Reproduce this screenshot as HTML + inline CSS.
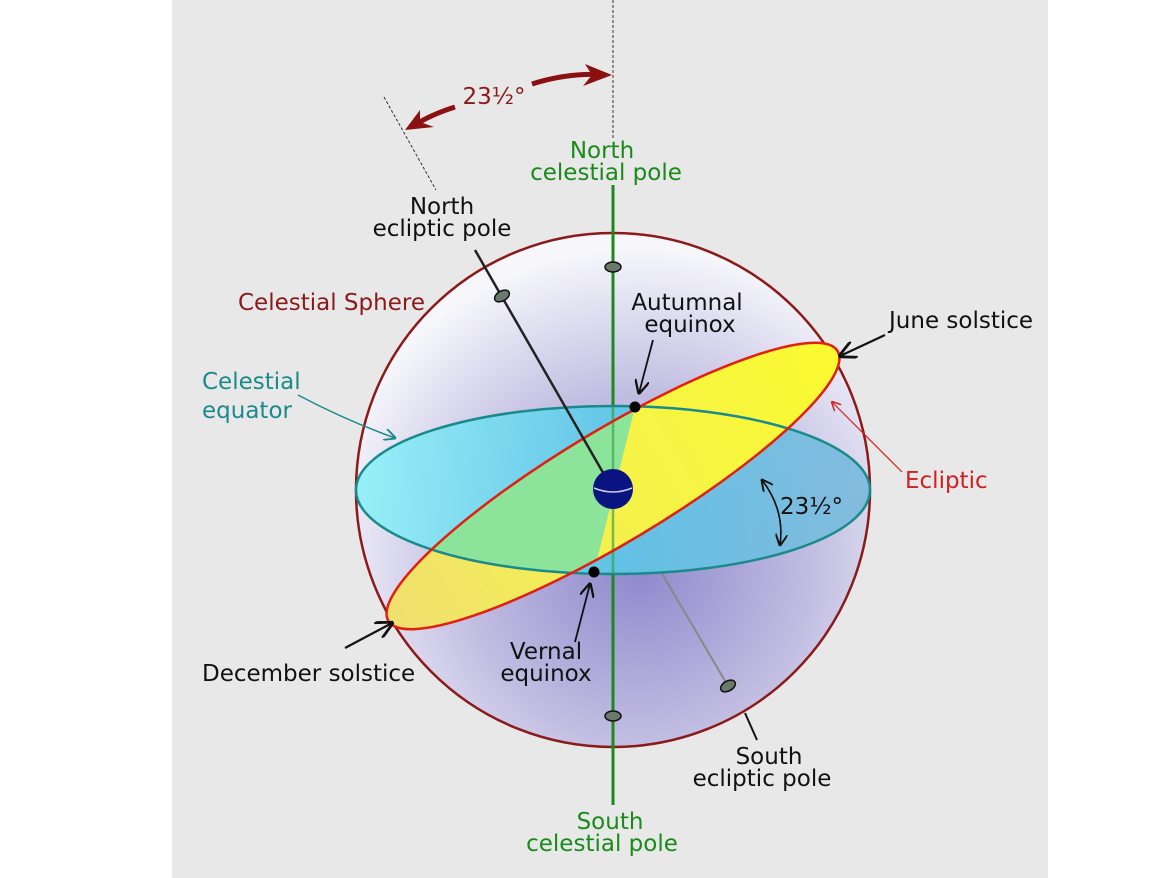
<!DOCTYPE html>
<html><head><style>
body{margin:0;background:#fff;}
svg{display:block;font-family:"DejaVu Sans","Liberation Sans",sans-serif;}
</style></head><body>
<svg width="1170" height="878" viewBox="0 0 1170 878">
<defs>
<radialGradient id="sph" cx="0.55" cy="0.65" r="0.62">
<stop offset="0" stop-color="#8e88cc"/><stop offset="0.55" stop-color="#c2bee2"/><stop offset="1" stop-color="#f6f6fb"/>
</radialGradient>
<linearGradient id="eq" x1="0" y1="0" x2="1" y2="0">
<stop offset="0" stop-color="#8ef0f8"/><stop offset="0.5" stop-color="#5cc8e8"/><stop offset="1" stop-color="#7ab8dc"/>
</linearGradient>
<linearGradient id="ec" x1="0" y1="0" x2="1" y2="0">
<stop offset="0" stop-color="#f0e070"/><stop offset="0.4" stop-color="#f4f050"/><stop offset="1" stop-color="#fafa30"/>
</linearGradient>
<clipPath id="eqc"><ellipse cx="613" cy="490" rx="257" ry="84"/></clipPath>
<clipPath id="leftc"><polygon points="300,300 640,300 635,407 594,572 590,700 300,700"/></clipPath>
<marker id="ah" viewBox="0 0 10 10" refX="9" refY="5" markerWidth="8" markerHeight="8" orient="auto"><path d="M0,0 L10,5 L0,10" fill="none" stroke="#111" stroke-width="1.6"/></marker>
<marker id="ahc" viewBox="0 0 10 10" refX="9" refY="5" markerWidth="8" markerHeight="8" orient="auto"><path d="M0,0 L10,5 L0,10" fill="none" stroke="#1a8a8a" stroke-width="1.6"/></marker>
<marker id="ahr" viewBox="0 0 10 10" refX="9" refY="5" markerWidth="8" markerHeight="8" orient="auto"><path d="M0,0 L10,5 L0,10" fill="none" stroke="#d02020" stroke-width="1.6"/></marker>
</defs>
<rect x="172" y="0" width="876" height="878" fill="#e8e8e8"/>
<circle cx="613" cy="490" r="257" fill="url(#sph)" stroke="#8b1a1a" stroke-width="2.5"/>
<line x1="613" y1="185" x2="613" y2="805" stroke="#1a8a1a" stroke-width="3"/>
<line x1="613" y1="0" x2="613" y2="140" stroke="#333" stroke-width="1" stroke-dasharray="3,2"/>
<line x1="613" y1="490" x2="728" y2="686" stroke="#888" stroke-width="2"/>
<line x1="384" y1="97" x2="436" y2="190" stroke="#333" stroke-width="1" stroke-dasharray="3,2"/>
<ellipse cx="613" cy="490" rx="257" ry="84" fill="url(#eq)" opacity="0.9"/>
<ellipse cx="613" cy="486" rx="262" ry="56" transform="rotate(-31 613 486)" fill="url(#ec)"/>
<g clip-path="url(#eqc)"><g clip-path="url(#leftc)">
<ellipse cx="613" cy="486" rx="262" ry="56" transform="rotate(-31 613 486)" fill="#8ce39a"/></g></g>
<line x1="613" y1="406" x2="613" y2="574" stroke="#3aa84a" stroke-width="2.5" opacity="0.7"/>
<ellipse cx="613" cy="490" rx="257" ry="84" fill="none" stroke="#1a8a8a" stroke-width="2.5"/>
<ellipse cx="613" cy="486" rx="262" ry="56" transform="rotate(-31 613 486)" fill="none" stroke="#e02010" stroke-width="2.5"/>
<line x1="475" y1="250" x2="613" y2="490" stroke="#222" stroke-width="2.5"/>
<circle cx="613" cy="489" r="20" fill="#0a1480"/>
<path d="M594,488 Q613,496 632,488" stroke="#cce" stroke-width="1.5" fill="none"/>
<ellipse cx="613" cy="267" rx="8" ry="5" fill="#6a7a6a" stroke="#111" stroke-width="1.5"/>
<ellipse cx="613" cy="716" rx="8" ry="5" fill="#6a7a6a" stroke="#111" stroke-width="1.5"/>
<ellipse cx="502" cy="296" rx="8" ry="5" transform="rotate(-30 502 296)" fill="#6a7a6a" stroke="#111" stroke-width="1.5"/>
<ellipse cx="728" cy="686" rx="8" ry="5" transform="rotate(-30 728 686)" fill="#6a7a6a" stroke="#111" stroke-width="1.5"/>
<circle cx="635" cy="407" r="5.5" fill="#000"/>
<circle cx="594" cy="572" r="5.5" fill="#000"/>
<path d="M653,340 L639,393" stroke="#111" stroke-width="1.8" fill="none" marker-end="url(#ah)"/>
<path d="M575,642 L590,584" stroke="#111" stroke-width="1.8" fill="none" marker-end="url(#ah)"/>
<path d="M885,335 L840,356" stroke="#111" stroke-width="2.2" fill="none" marker-end="url(#ah)"/>
<path d="M345,648 L392,623" stroke="#111" stroke-width="2.2" fill="none" marker-end="url(#ah)"/>
<path d="M745,713 L757,740" stroke="#111" stroke-width="2" fill="none"/>
<path d="M298,395 Q345,420 395,438" stroke="#1a8a8a" stroke-width="1.5" fill="none" marker-end="url(#ahc)"/>
<path d="M902,472 Q870,440 832,402" stroke="#d02020" stroke-width="1.2" fill="none" marker-end="url(#ahr)"/>
<path d="M762,480 Q785,510 780,545" stroke="#111" stroke-width="1.5" fill="none" marker-end="url(#ah)"/>
<path d="M780,545 Q785,510 762,480" stroke="#111" stroke-width="1.5" fill="none" marker-end="url(#ah)"/>
<path d="M532,84 Q570,72 606,75" stroke="#8b1010" stroke-width="5" fill="none"/>
<polygon points="612,75 585,64 592,75 583,86" fill="#8b1010"/>
<path d="M455,107 Q430,115 415,125" stroke="#8b1010" stroke-width="5" fill="none"/>
<polygon points="405,130 420,110 420,122 434,127" fill="#8b1010"/>
<g font-size="23">
<text x="494" y="104" fill="#8b1a1a" text-anchor="middle">23½°</text>
<text x="602" y="158" fill="#1a8a1a" text-anchor="middle">North</text>
<text x="606" y="180" fill="#1a8a1a" text-anchor="middle">celestial pole</text>
<text x="442" y="214" fill="#111" text-anchor="middle">North</text>
<text x="442" y="236" fill="#111" text-anchor="middle">ecliptic pole</text>
<text x="238" y="310" fill="#8b1a1a">Celestial Sphere</text>
<text x="687" y="310" fill="#111" text-anchor="middle">Autumnal</text>
<text x="690" y="332" fill="#111" text-anchor="middle">equinox</text>
<text x="889" y="328" fill="#111">June solstice</text>
<text x="202" y="389" fill="#1a8a8a">Celestial</text>
<text x="202" y="418" fill="#1a8a8a">equator</text>
<text x="905" y="488" fill="#d02020">Ecliptic</text>
<text x="780" y="514" fill="#111">23½°</text>
<text x="546" y="659" fill="#111" text-anchor="middle">Vernal</text>
<text x="546" y="681" fill="#111" text-anchor="middle">equinox</text>
<text x="202" y="681" fill="#111">December solstice</text>
<text x="769" y="764" fill="#111" text-anchor="middle">South</text>
<text x="762" y="786" fill="#111" text-anchor="middle">ecliptic pole</text>
<text x="610" y="829" fill="#1a8a1a" text-anchor="middle">South</text>
<text x="602" y="851" fill="#1a8a1a" text-anchor="middle">celestial pole</text>
</g>
</svg>
</body></html>
